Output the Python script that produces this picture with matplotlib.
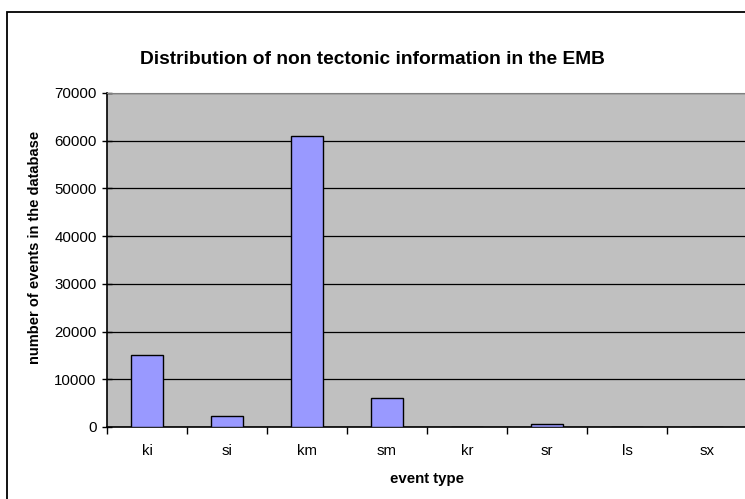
import matplotlib
matplotlib.use("Agg")
import matplotlib.pyplot as plt
from matplotlib.patches import Rectangle

# event types and counts
event_types = ["ki", "si", "km", "sm", "kr", "sr", "ls", "sx"]
nb_events = [15000, 2300, 61000, 6150, 0, 700, 0, 0]
y_ticks = [0, 10000, 20000, 30000, 40000, 50000, 60000, 70000]

plt.rcParams["font.family"] = ["Liberation Sans", "DejaVu Sans"]

W, H = 745, 499
fig = plt.figure(figsize=(W / 100, H / 100), dpi=100)

# outer chart border (runs off the picture on the right and bottom)
fig.patches.append(Rectangle((7 / W, -0.1), 1.2, 1.1 - 12 / H, transform=fig.transFigure,
                             fill=False, edgecolor="black", linewidth=1.3))

ax = fig.add_axes([107 / W, (H - 427) / H, (747 - 107) / W, (427 - 93) / H])
ax.set_facecolor("#C0C0C0")

x = list(range(len(event_types)))
ax.bar(x, nb_events, width=0.4, color="#9999FF", edgecolor="black", linewidth=1, zorder=3)

ax.set_xlim(-0.5, len(event_types) - 0.5)
ax.set_ylim(0, 70000)
ax.set_yticks(y_ticks)
ax.set_yticklabels([str(v) for v in y_ticks], fontsize=10.8)
ax.yaxis.grid(True, color="black", linewidth=0.9, zorder=1)

# x ticks between categories, labels at the centres
ax.set_xticks([i - 0.5 for i in range(len(event_types) + 1)])
ax.set_xticklabels([])
ax.set_xticks(x, minor=True)
ax.set_xticklabels(event_types, minor=True, fontsize=10.8)
ax.tick_params(axis="x", which="major", direction="out", length=5, width=1)
ax.tick_params(axis="x", which="minor", length=0, pad=12)
ax.tick_params(axis="y", direction="inout", length=7, width=1, pad=4)

for s in ["top", "right"]:
    ax.spines[s].set_color("#808080")
for s in ["left", "bottom"]:
    ax.spines[s].set_color("black")
    ax.spines[s].set_linewidth(1.2)

fig.text(0.5, 1 - 60 / H, "Distribution of non tectonic information in the EMB",
         fontsize=13.8, fontweight="bold", ha="center", va="center")
ax.set_xlabel("event type", fontsize=10.8, fontweight="bold", labelpad=10)
fig.text(35 / W, 1 - 247 / H, "number of events in the database", fontsize=10.5,
         fontweight="bold", rotation=90, ha="center", va="center")

fig.savefig("out.png", dpi=100)
